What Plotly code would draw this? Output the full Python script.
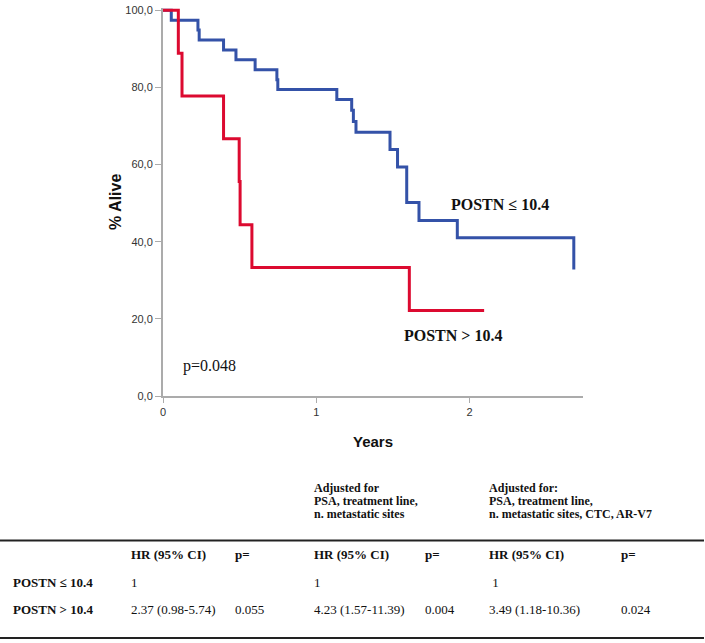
import plotly.graph_objects as go

# Kaplan-Meier steps (years, % alive)
low_t = [0, 0.054, 0.228, 0.236, 0.395, 0.476, 0.601, 0.743, 0.749, 1.134, 1.231, 1.242,
         1.259, 1.481, 1.530, 1.590, 1.670, 1.920, 2.680]
low_s = [100, 97.4, 94.9, 92.3, 89.7, 87.2, 84.6, 82.0, 79.5, 76.9, 74.1, 71.2,
         68.4, 63.9, 59.4, 50.2, 45.5, 41.0, 32.8]
high_t = [0, 0.100, 0.124, 0.395, 0.497, 0.503, 0.580, 1.607, 2.095]
high_s = [100, 88.9, 77.8, 66.7, 55.6, 44.4, 33.3, 22.2, 22.2]

y_ticks = [0, 20, 40, 60, 80, 100]
y_labels = ["0,0", "20,0", "40,0", "60,0", "80,0", "100,0"]
x_ticks = [0, 1, 2]

p_text = "p=0.048"
low_name = "POSTN ≤ 10.4"
high_name = "POSTN > 10.4"

# table
head1 = ["Adjusted for", "PSA, treatment line,", "n. metastatic sites"]
head2 = ["Adjusted for:", "PSA, treatment line,", "n. metastatic sites, CTC, AR-V7"]
col_heads = ["HR (95% CI)", "p=", "HR (95% CI)", "p=", "HR (95% CI)", "p="]
row_names = ["POSTN ≤ 10.4", "POSTN > 10.4"]
row1 = ["1", "", "1", "", " 1", ""]
row2 = ["2.37 (0.98-5.74)", "0.055", "4.23 (1.57-11.39)", "0.004", "3.49 (1.18-10.36)", "0.024"]

BLUE = "#3452a8"
RED = "#dc0a30"
AX = "#ababab"
sans = "Liberation Sans Narrow, Arial Narrow, Liberation Sans, Arial"
serif = "Liberation Serif, Times New Roman, serif"

W, H = 705, 643
L, R, T, B = 163, 122, 4, 247


def px(x):
    return (x - L) / (W - L - R)


def py(y):
    return (H - B - y) / (H - T - B)


fig = go.Figure()
fig.add_trace(go.Scatter(x=low_t, y=low_s, mode="lines", line_shape="hv",
                         line=dict(color=BLUE, width=3), name=low_name))
fig.add_trace(go.Scatter(x=high_t, y=high_s, mode="lines", line_shape="hv",
                         line=dict(color=RED, width=3), name=high_name))

fig.update_xaxes(range=[0, 2.74], tickvals=x_ticks, ticks="outside", ticklen=5,
                 tickcolor=AX, showline=True, linecolor=AX, linewidth=2,
                 showgrid=False, zeroline=False,
                 tickfont=dict(family=sans, size=11, color="#333"))
fig.update_yaxes(range=[0, 100.6], tickvals=y_ticks, ticktext=y_labels, ticks="outside",
                 ticklen=6, tickcolor=AX, showline=True, linecolor=AX, linewidth=2,
                 showgrid=False, zeroline=False,
                 tickfont=dict(family=sans, size=11, color="#333"))

ann = []
ann.append(dict(x=px(373), y=py(442), text="<b>Years</b>", font=dict(family=sans, size=15, color="#111")))
ann.append(dict(x=px(115), y=py(200), text="<b>% Alive</b>", textangle=-90,
                font=dict(family=sans, size=16, color="#111")))
ann.append(dict(x=px(181), y=py(366), text=p_text, xanchor="left",
                font=dict(family=serif, size=16, color="#111")))
ann.append(dict(x=px(449), y=py(203), text="<b>%s</b>" % low_name, xanchor="left",
                font=dict(family=serif, size=16, color="#111")))
ann.append(dict(x=px(402), y=py(335), text="<b>%s</b>" % high_name, xanchor="left",
                font=dict(family=serif, size=16, color="#111")))

tf = dict(family=serif, size=13, color="#111")
hf = dict(family=serif, size=12, color="#111")
for i, t in enumerate(head1):
    ann.append(dict(x=px(312), y=py(489 + 13.3 * i), text="<b>%s</b>" % t, xanchor="left", font=hf))
for i, t in enumerate(head2):
    ann.append(dict(x=px(487), y=py(489 + 13.3 * i), text="<b>%s</b>" % t, xanchor="left", font=hf))
col_x = [129, 233, 312, 423, 487, 619]
for cx, t in zip(col_x, col_heads):
    ann.append(dict(x=px(cx), y=py(556), text="<b>%s</b>" % t, xanchor="left", font=tf))
for ry, name, vals in [(584.5, row_names[0], row1), (612, row_names[1], row2)]:
    ann.append(dict(x=px(11), y=py(ry), text="<b>%s</b>" % name, xanchor="left", font=tf))
    for cx, t in zip(col_x, vals):
        if t:
            ann.append(dict(x=px(cx), y=py(ry), text=t, xanchor="left", font=tf))

for a in ann:
    a.update(xref="paper", yref="paper", showarrow=False)
    a.setdefault("xanchor", "center")
    a.setdefault("yanchor", "middle")

shapes = []
for ly in [542, 640.5]:
    shapes.append(dict(type="line", xref="paper", yref="paper", x0=px(0), x1=px(704),
                       y0=py(ly), y1=py(ly), line=dict(color="#222", width=2)))

fig.update_layout(width=W, height=H, margin=dict(l=L, r=R, t=T, b=B),
                  plot_bgcolor="white", paper_bgcolor="white", showlegend=False,
                  annotations=ann, shapes=shapes)
fig.write_html("out.html", config={"displayModeBar": False},
               post_script="document.body.style.margin='0px';")
